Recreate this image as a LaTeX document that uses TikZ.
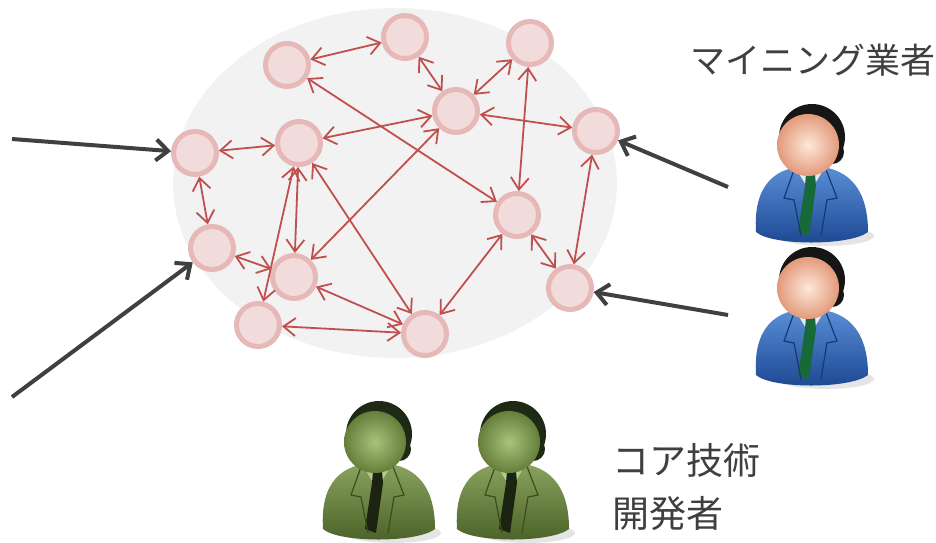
\documentclass[tikz,border=0pt]{standalone}
\usepackage{fontspec}
\newfontfamily\jpfont{Noto Sans CJK JP}
\usetikzlibrary{arrows.meta}

\definecolor{cloudgray}{HTML}{F2F2F2}
\definecolor{nodefill}{HTML}{F2DCDB}
\definecolor{noderim}{HTML}{E6B9B8}
\definecolor{linkred}{HTML}{C0504D}
\definecolor{feedgray}{HTML}{404040}
\definecolor{labelgray}{HTML}{3F3F3F}

% miner colours
\definecolor{suittop}{HTML}{5A8FD8}
\definecolor{suitbot}{HTML}{1B4690}
\definecolor{skinlt}{HTML}{FDE8DA}
\definecolor{skindk}{HTML}{E39A7A}
\definecolor{hairblk}{HTML}{161616}
\definecolor{tiegreen}{HTML}{17693A}
\definecolor{shirtwh}{HTML}{E8ECEF}
% developer colours
\definecolor{olivetop}{HTML}{8AA35E}
\definecolor{olivebot}{HTML}{4A6027}
\definecolor{olivelt}{HTML}{A9C27C}
\definecolor{olivedk}{HTML}{657F3A}
\definecolor{olivehair}{HTML}{1E2A14}
\definecolor{olivetie}{HTML}{1A2410}
\definecolor{oliveshirt}{HTML}{B5CC8E}

% A business-person icon: head centre at #1, colours for
% body top/bottom, face light/dark, hair, tie, collar
\newcommand\personicon[8]{%
  \begin{scope}[shift={#1}]
    \fill[gray!20] (16,96) ellipse [x radius=48, y radius=10];
    \shade[top color=#2, bottom color=#3]
      (-54,92) .. controls (-57,45) and (-35,26) .. (0,26)
      .. controls (35,26) and (58,45) .. (58,92)
      .. controls (40,106) and (-38,106) .. (-54,92) -- cycle;
    \fill[#8] (-15,27) -- (0,52) -- (15,27) -- cycle;
    \fill[#7] (-4,34) -- (5,34) -- (6,46) -- (-1,96) -- (-12,92) -- (-5,46) -- cycle;
    \draw[#3!80!black, line width=1.2] (-15,27) -- (-26,58) -- (-16,60) -- (-9,96);
    \draw[#3!80!black, line width=1.2] (15,27) -- (27,58) -- (17,60) -- (11,96);
    \fill[#6] (2,-3) circle (33);
    \fill[#6] (22,12) circle (12);
    \shade[inner color=#4, outer color=#5] (-2,5) circle (31);
  \end{scope}}

\tikzset{
  peer/.style={circle, minimum size=43, inner sep=0, fill=nodefill,
    draw=noderim, line width=5},
  link/.style={draw=linkred, line width=1.8,
    {Straight Barb[length=12, width=18]}-{Straight Barb[length=12, width=18]}},
  feed/.style={draw=feedgray, line width=4,
    -{Straight Barb[length=12, width=21]}},
  caption/.style={font=\jpfont\fontsize{35}{53}\selectfont, text=labelgray,
    inner sep=0},
  bigcaption/.style={font=\jpfont\fontsize{37}{53}\selectfont, text=labelgray,
    inner sep=0}
}

\begin{document}
\begin{tikzpicture}[x=1pt, y=-1pt]
\useasboundingbox (0,0) rectangle (936,542);

% network cloud
\fill[cloudgray] (395,183) ellipse [x radius=222, y radius=175];

% peers
\node[peer] (a) at (287,65) {};
\node[peer] (b) at (405,37) {};
\node[peer] (c) at (530,43) {};
\node[peer] (d) at (456,111) {};
\node[peer] (e) at (596,131) {};
\node[peer] (f) at (195,153) {};
\node[peer] (g) at (299,143) {};
\node[peer] (h) at (517,215) {};
\node[peer] (i) at (212,248) {};
\node[peer] (j) at (294,277) {};
\node[peer] (k) at (570,288) {};
\node[peer] (l) at (258,325) {};
\node[peer] (m) at (425,334) {};

% peer-to-peer links
\draw[link] (a) -- (b);
\draw[link] (b) -- (d);
\draw[link] (c) -- (d);
\draw[link] (c) -- (h);
\draw[link] (d) -- (e);
\draw[link] (g) -- (d);
\draw[link] (f) -- (g);
\draw[link] (a) -- (h);
\draw[link] (j) -- (d);
\draw[link] (f) -- (i);
\draw[link] (i) -- (j);
\draw[link] (g) -- (l);
\draw[link] (g) -- (j);
\draw[link] (g) -- (m);
\draw[link] (j) -- (m);
\draw[link] (l) -- (m);
\draw[link] (m) -- (h);
\draw[link] (e) -- (k);
\draw[link] (h) -- (k);

% incoming feeds
\coordinate (in1) at (12,139);
\coordinate (in2) at (12,397);
\coordinate (in3) at (728,187);
\coordinate (in4) at (728,315);
\draw[feed] (in1) -- (f);
\draw[feed] (in2) -- (i);
\draw[feed] (in3) -- (e);
\draw[feed] (in4) -- (k);

% miners
\personicon{(810,140)}{suittop}{suitbot}{skinlt}{skindk}{hairblk}{tiegreen}{shirtwh}
\personicon{(810,283)}{suittop}{suitbot}{skinlt}{skindk}{hairblk}{tiegreen}{shirtwh}

% core developers
\personicon{(377,437)}{olivetop}{olivebot}{olivelt}{olivedk}{olivehair}{olivetie}{oliveshirt}
\personicon{(511,437)}{olivetop}{olivebot}{olivelt}{olivedk}{olivehair}{olivetie}{oliveshirt}

% captions
\node[caption, anchor=west] (miners) at (690,60) {マイニング業者};
\node[bigcaption, anchor=north west, align=left] (devs) at (612,443) {コア技術\\開発者};
\end{tikzpicture}
\end{document}
